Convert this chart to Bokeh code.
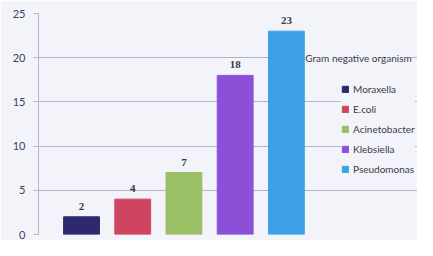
from bokeh.plotting import figure
from bokeh.models import ColumnDataSource, Range1d, LabelSet, Label, Legend, LegendItem, FixedTicker
from bokeh.embed import file_html
from bokeh.resources import INLINE

organisms = ["Moraxella", "E.coli", "Acinetobacter", "Klebsiella", "Pseudomonas"]
counts = [2, 4, 7, 18, 23]
colors = ["#2c2a6c", "#cf4560", "#99c064", "#8c50d8", "#3fa0ea"]
y_ticks = [0, 5, 10, 15, 20, 25]
legend_title = "Gram negative organism"

BG = "#f3f4fa"
FONT = "Lato"

src = ColumnDataSource(dict(x=list(range(len(organisms))), top=counts, color=colors,
                            name=organisms, lab=[str(c) for c in counts]))

p = figure(width=417, height=240, output_backend="svg", toolbar_location=None,
           x_range=Range1d(-0.84, 6.56), y_range=Range1d(0, 25),
           min_border_left=38, min_border_right=0, min_border_top=13, min_border_bottom=6,
           frame_width=379, frame_height=221)
p.background_fill_color = BG
p.border_fill_color = BG
p.outline_line_color = None

p.xaxis.visible = False
p.xgrid.grid_line_color = None
p.ygrid.grid_line_color = "#b4b4cc"
p.ygrid.grid_line_width = 1
p.yaxis.ticker = FixedTicker(ticks=y_ticks)
p.yaxis.axis_line_color = "#b4b4cc"
p.yaxis.major_tick_line_color = "#b4b4cc"
p.yaxis.major_tick_out = 5
p.yaxis.major_tick_in = 0
p.yaxis.minor_tick_line_color = None
p.yaxis.major_label_text_font = FONT
p.yaxis.major_label_text_font_size = "11px"
p.yaxis.major_label_text_color = "#3c3c5c"
p.yaxis.major_label_standoff = 8

renderers = []
for i, name in enumerate(organisms):
    view_src = ColumnDataSource(dict(x=[src.data["x"][i]], top=[counts[i]]))
    r = p.vbar(x="x", top="top", width=0.7, bottom=0, source=view_src,
               fill_color=colors[i], line_color=colors[i])
    renderers.append((name, r))

labels = LabelSet(x="x", y="top", text="lab", source=src, y_offset=7,
                  text_align="center", text_baseline="bottom",
                  text_font=FONT, text_font_size="11px", text_font_style="bold",
                  text_color="#3a3a4a")
p.add_layout(labels)

legend = Legend(items=[LegendItem(label=n, renderers=[r]) for n, r in renderers],
                location=(303, 59), background_fill_color=BG, background_fill_alpha=1,
                border_line_color=None, padding=4, margin=0,
                glyph_width=8, glyph_height=8, label_height=12, spacing=8,
                label_standoff=4, label_text_font=FONT, label_text_font_size="10px",
                label_text_color="#3a3a4a")
p.add_layout(legend)

title = Label(x=4.37, y=20, text=legend_title, text_baseline="middle", text_align="left",
              text_font=FONT, text_font_size="10px", text_color="#3a3a4a",
              background_fill_color=BG, background_fill_alpha=1)
p.add_layout(title)

open("out.html", "w").write(file_html(p, INLINE))
